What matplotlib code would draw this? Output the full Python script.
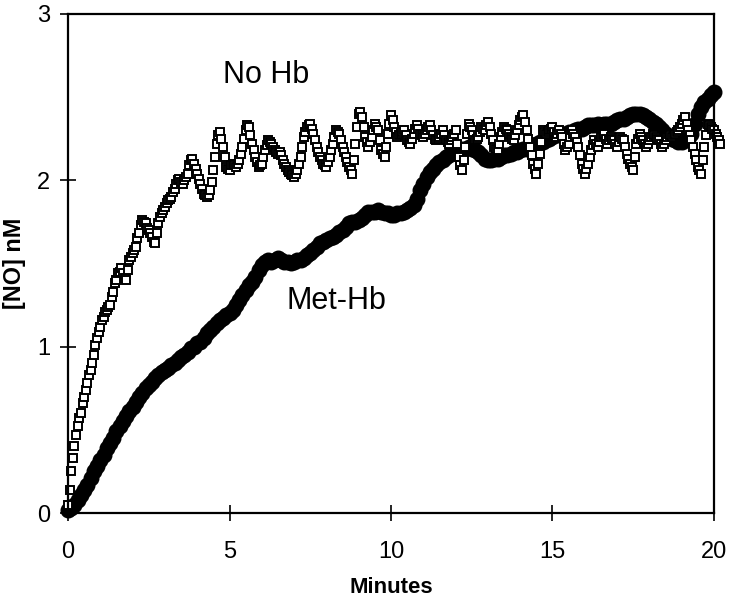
import numpy as np
import matplotlib
matplotlib.use("Agg")
import matplotlib.pyplot as plt

plt.rcParams['font.family'] = ['Liberation Sans', 'DejaVu Sans']

# sampling intervals of the two recordings (minutes)
step_no_hb = 0.05
step_met_hb = 0.1

no_hb = [
    0.05, 0.14, 0.25, 0.33, 0.40, 0.47, 0.52, 0.57, 0.60, 0.66,
    0.70, 0.74, 0.78, 0.83, 0.86, 0.90, 0.95, 1.01, 1.05, 1.09,
    1.12, 1.16, 1.18, 1.21, 1.22, 1.24, 1.25, 1.30, 1.33, 1.38,
    1.40, 1.44, 1.45, 1.47, 1.44, 1.41, 1.40, 1.46, 1.52, 1.54,
    1.56, 1.58, 1.60, 1.65, 1.68, 1.73, 1.76, 1.75, 1.74, 1.71,
    1.70, 1.68, 1.66, 1.63, 1.62, 1.68, 1.74, 1.78, 1.80, 1.82,
    1.84, 1.86, 1.88, 1.89, 1.90, 1.93, 1.95, 1.98, 2.00, 2.01,
    1.99, 1.98, 2.00, 2.02, 2.04, 2.09, 2.12, 2.13, 2.10, 2.07,
    2.04, 2.01, 1.98, 1.95, 1.92, 1.91, 1.90, 1.91, 1.94, 1.99,
    2.06, 2.14, 2.22, 2.27, 2.29, 2.25, 2.20, 2.14, 2.08, 2.07,
    2.06, 2.09, 2.10, 2.09, 2.08, 2.10, 2.12, 2.16, 2.20, 2.25,
    2.30, 2.33, 2.32, 2.27, 2.22, 2.18, 2.14, 2.11, 2.08, 2.09,
    2.10, 2.14, 2.18, 2.21, 2.24, 2.23, 2.22, 2.20, 2.18, 2.17,
    2.16, 2.17, 2.15, 2.12, 2.10, 2.08, 2.06, 2.05, 2.04, 2.03,
    2.02, 2.04, 2.06, 2.10, 2.14, 2.20, 2.26, 2.29, 2.32, 2.33,
    2.34, 2.31, 2.28, 2.24, 2.20, 2.17, 2.14, 2.12, 2.10, 2.09,
    2.08, 2.11, 2.14, 2.18, 2.22, 2.26, 2.30, 2.29, 2.28, 2.24,
    2.20, 2.17, 2.14, 2.11, 2.08, 2.06, 2.04, 2.12, 2.22, 2.32,
    2.40, 2.41, 2.38, 2.32, 2.26, 2.23, 2.20, 2.23, 2.26, 2.30,
    2.34, 2.32, 2.30, 2.24, 2.18, 2.16, 2.14, 2.20, 2.28, 2.34,
    2.39, 2.36, 2.32, 2.29, 2.26, 2.27, 2.28, 2.29, 2.30, 2.27,
    2.24, 2.23, 2.22, 2.25, 2.28, 2.31, 2.33, 2.31, 2.28, 2.27,
    2.26, 2.28, 2.30, 2.32, 2.33, 2.30, 2.27, 2.25, 2.24, 2.25,
    2.26, 2.28, 2.30, 2.27, 2.24, 2.23, 2.22, 2.24, 2.26, 2.28,
    2.30, 2.22, 2.14, 2.09, 2.06, 2.12, 2.20, 2.28, 2.34, 2.32,
    2.30, 2.27, 2.24, 2.25, 2.26, 2.29, 2.32, 2.31, 2.30, 2.33,
    2.35, 2.32, 2.28, 2.24, 2.20, 2.19, 2.18, 2.22, 2.26, 2.29,
    2.32, 2.31, 2.30, 2.28, 2.26, 2.25, 2.24, 2.27, 2.30, 2.33,
    2.36, 2.38, 2.39, 2.35, 2.30, 2.25, 2.20, 2.15, 2.10, 2.07,
    2.04, 2.10, 2.16, 2.23, 2.30, 2.29, 2.28, 2.29, 2.30, 2.31,
    2.32, 2.29, 2.26, 2.28, 2.30, 2.28, 2.26, 2.22, 2.18, 2.20,
    2.22, 2.26, 2.30, 2.28, 2.26, 2.23, 2.20, 2.15, 2.10, 2.07,
    2.04, 2.07, 2.10, 2.14, 2.18, 2.21, 2.24, 2.22, 2.20, 2.23,
    2.26, 2.27, 2.28, 2.25, 2.22, 2.24, 2.26, 2.25, 2.24, 2.22,
    2.20, 2.23, 2.26, 2.25, 2.24, 2.20, 2.16, 2.13, 2.10, 2.08,
    2.06, 2.14, 2.22, 2.25, 2.28, 2.26, 2.24, 2.22, 2.20, 2.22,
    2.24, 2.26, 2.28, 2.27, 2.26, 2.25, 2.24, 2.22, 2.20, 2.22,
    2.24, 2.26, 2.28, 2.27, 2.26, 2.27, 2.28, 2.29, 2.30, 2.32,
    2.34, 2.36, 2.38, 2.34, 2.30, 2.27, 2.24, 2.20, 2.16, 2.12,
    2.08, 2.06, 2.04, 2.12, 2.20, 2.27, 2.34, 2.33, 2.32, 2.31,
    2.30, 2.28, 2.26, 2.24, 2.22,
]

met_hb = [
    0.02, 0.03, 0.05, 0.08, 0.11, 0.14, 0.17, 0.21, 0.25, 0.28,
    0.32, 0.35, 0.39, 0.42, 0.45, 0.49, 0.52, 0.55, 0.58, 0.61,
    0.64, 0.67, 0.70, 0.72, 0.75, 0.77, 0.79, 0.81, 0.83, 0.85,
    0.86, 0.87, 0.89, 0.90, 0.92, 0.94, 0.95, 0.97, 0.99, 1.00,
    1.02, 1.03, 1.05, 1.08, 1.10, 1.12, 1.14, 1.16, 1.17, 1.19,
    1.20, 1.22, 1.25, 1.28, 1.31, 1.34, 1.37, 1.39, 1.42, 1.46,
    1.49, 1.51, 1.52, 1.51, 1.52, 1.53, 1.52, 1.51, 1.51, 1.50,
    1.51, 1.52, 1.52, 1.53, 1.55, 1.56, 1.58, 1.60, 1.62, 1.63,
    1.64, 1.65, 1.66, 1.67, 1.69, 1.70, 1.72, 1.74, 1.75, 1.75,
    1.76, 1.77, 1.79, 1.81, 1.81, 1.81, 1.82, 1.81, 1.80, 1.80,
    1.79, 1.79, 1.80, 1.80, 1.81, 1.82, 1.83, 1.85, 1.89, 1.94,
    1.98, 2.02, 2.05, 2.07, 2.09, 2.11, 2.12, 2.14, 2.15, 2.17,
    2.18, 2.19, 2.19, 2.19, 2.20, 2.19, 2.18, 2.17, 2.15, 2.13,
    2.12, 2.12, 2.13, 2.13, 2.14, 2.15, 2.15, 2.16, 2.17, 2.17,
    2.18, 2.19, 2.19, 2.20, 2.21, 2.22, 2.23, 2.23, 2.24, 2.25,
    2.26, 2.27, 2.27, 2.28, 2.28, 2.29, 2.29, 2.30, 2.31, 2.31,
    2.32, 2.33, 2.33, 2.33, 2.34, 2.33, 2.34, 2.34, 2.34, 2.35,
    2.36, 2.37, 2.37, 2.38, 2.39, 2.40, 2.40, 2.40, 2.39, 2.38,
    2.37, 2.35, 2.34, 2.32, 2.30, 2.28, 2.26, 2.25, 2.24, 2.23,
    2.23, 2.24, 2.25, 2.28, 2.34, 2.40, 2.44, 2.47, 2.49, 2.51,
    2.53,
]

t_no_hb = np.arange(len(no_hb)) * step_no_hb
t_met_hb = np.arange(len(met_hb)) * step_met_hb

fig = plt.figure(figsize=(7.32, 6.0), dpi=100)
ax = fig.add_axes([0.0929, 0.145, 0.8825, 0.832])

ax.plot(t_met_hb, met_hb, linestyle='none', marker='o', markersize=10.5,
        color='black', clip_on=False, zorder=2)
ax.plot(t_no_hb, no_hb, linestyle='none', marker='s', markersize=5.2,
        markerfacecolor='white', markeredgecolor='black', markeredgewidth=1.4,
        clip_on=False, zorder=3)

ax.set_xlim(0, 20)
ax.set_ylim(0, 3)
ax.set_xticks([0, 5, 10, 15, 20])
ax.set_yticks([0, 1, 2, 3])
ax.tick_params(direction='inout', length=12, width=1.2, labelsize=17)
ax.tick_params(axis='x', pad=14)
ax.tick_params(axis='y', pad=7)

for s in ax.spines.values():
    s.set_linewidth(1.6)
    s.set_zorder(4)

ax.set_xlabel('Minutes', fontsize=16, fontweight='bold', labelpad=10)
ax.set_ylabel('[NO] nM', fontsize=16.8, fontweight='bold', labelpad=8)

ax.text(6.13, 2.63, 'No Hb', fontsize=22, ha='center', va='center')
ax.text(8.3, 1.275, 'Met-Hb', fontsize=22, ha='center', va='center')

fig.savefig('out.png', dpi=100)
